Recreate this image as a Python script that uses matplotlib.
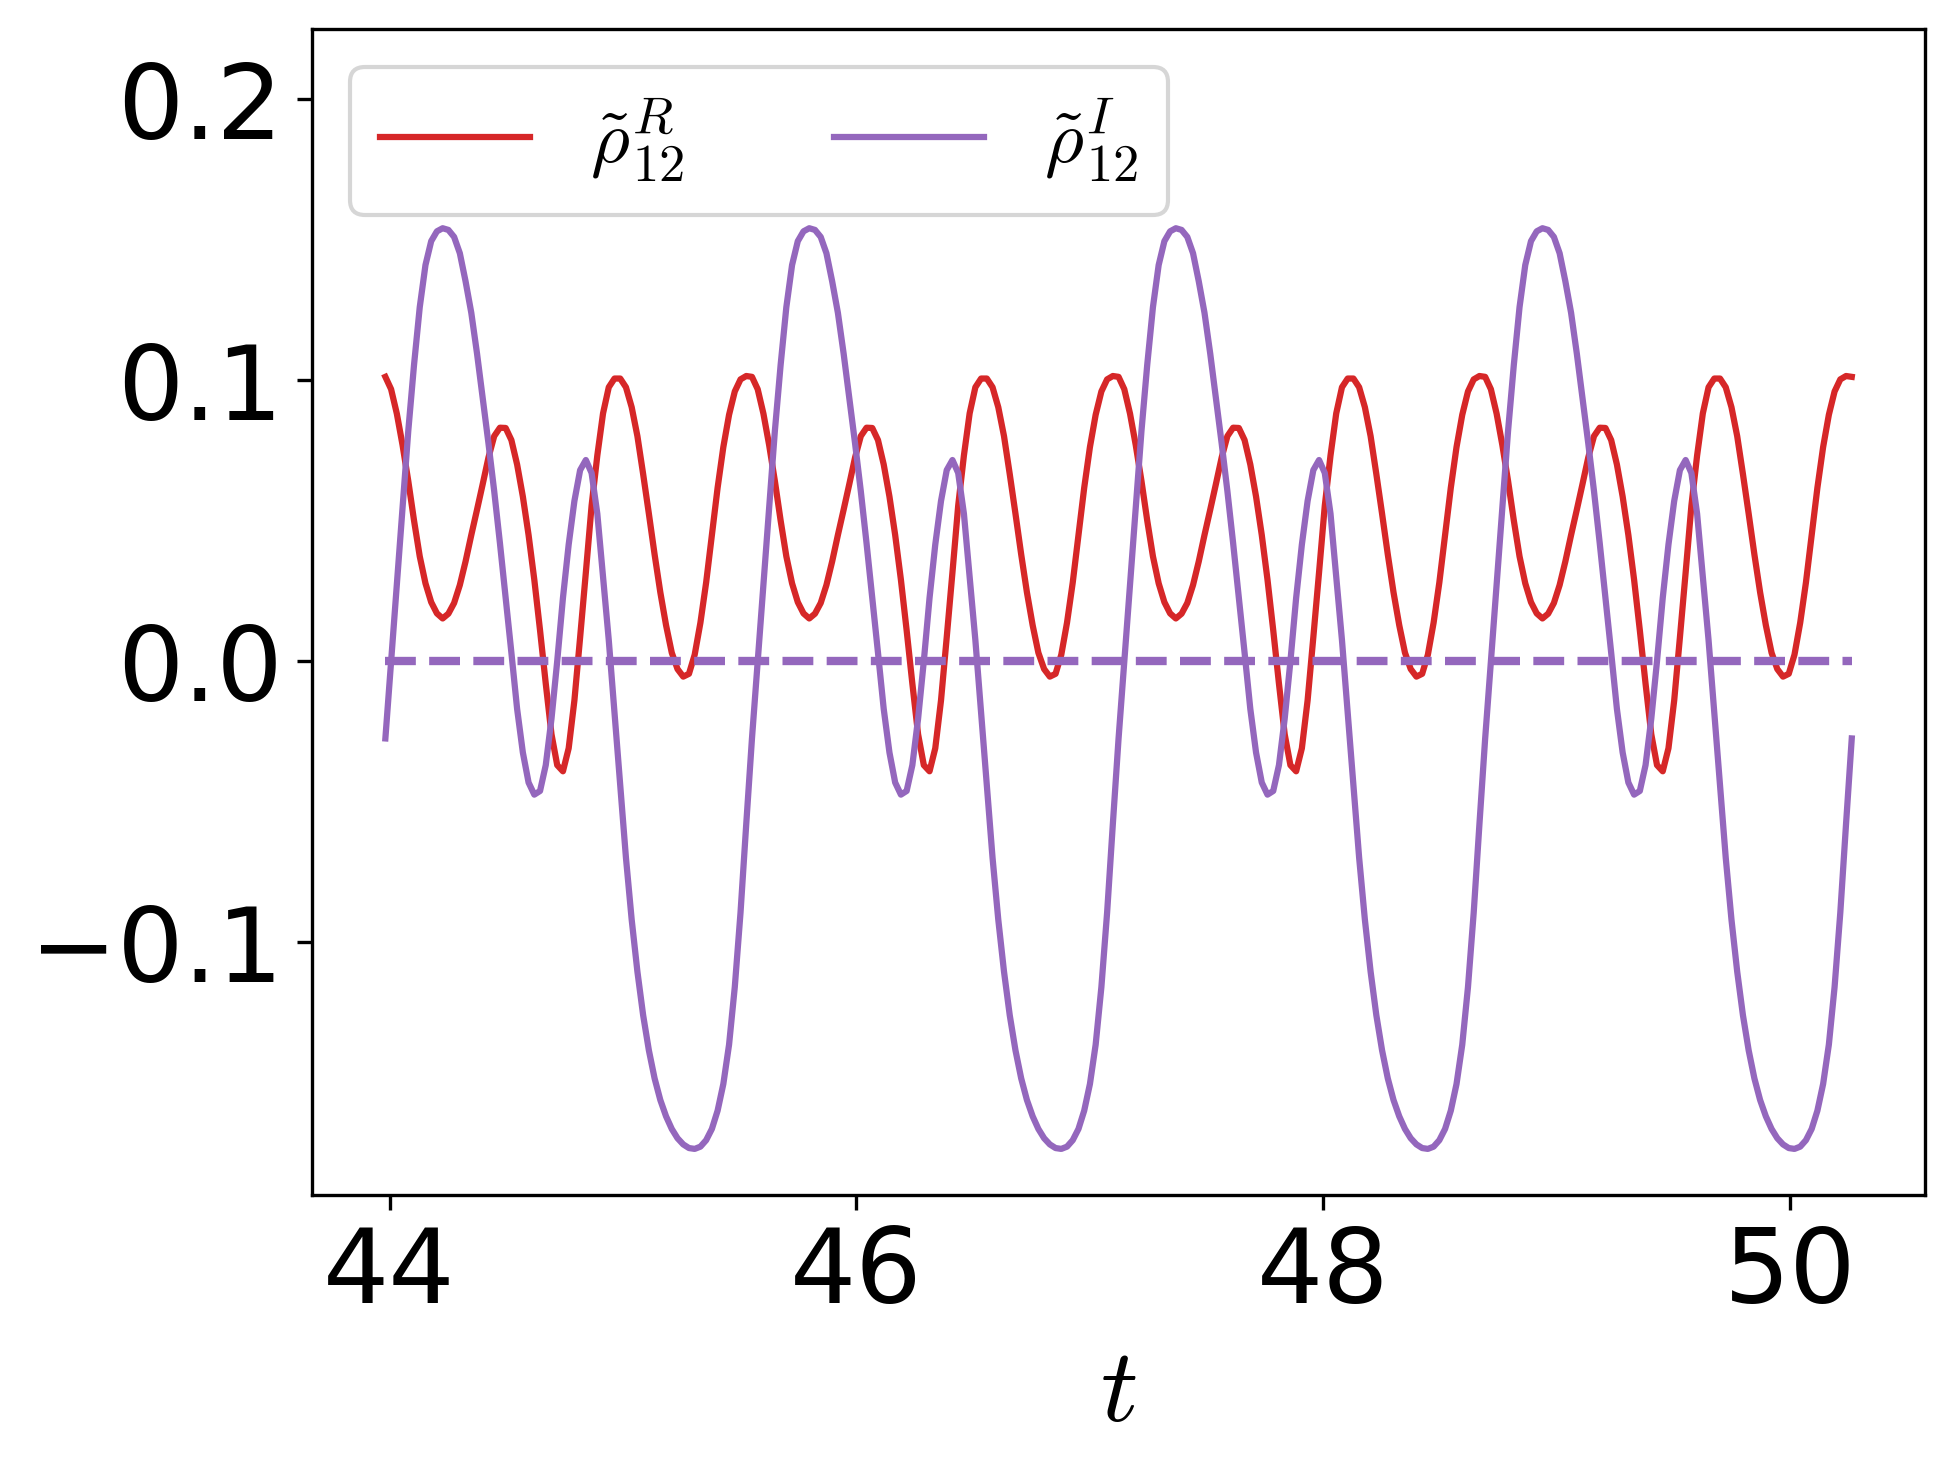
import numpy as np
import matplotlib.pyplot as plt

# the plotted window 14*pi .. 16*pi holds exactly four periods
rho_R_period = [
    0.1012, 0.0968, 0.0881, 0.0769, 0.0641, 0.0501, 0.0373, 0.0277,
    0.0210, 0.0170, 0.0152, 0.0169, 0.0207, 0.0271, 0.0355, 0.0449,
    0.0539, 0.0631, 0.0725, 0.0801, 0.0831, 0.0830, 0.0787, 0.0700,
    0.0586, 0.0449, 0.0290, 0.0110, -0.0080, -0.0260, -0.0370, -0.0392,
    -0.0310, -0.0140, 0.0085, 0.0316, 0.0553, 0.0732, 0.0882, 0.0975,
    0.1006, 0.1006, 0.0975, 0.0904, 0.0801, 0.0666, 0.0525, 0.0380,
    0.0245, 0.0128, 0.0030, -0.0028, -0.0055, -0.0045, 0.0023, 0.0137,
    0.0280, 0.0450, 0.0617, 0.0762, 0.0877, 0.0960, 0.1003, 0.1015,
]
rho_I_period = [
    -0.0275, 0.0000, 0.0270, 0.0550, 0.0820, 0.1054, 0.1260, 0.1410,
    0.1495, 0.1530, 0.1541, 0.1535, 0.1510, 0.1452, 0.1352, 0.1240,
    0.1095, 0.0935, 0.0775, 0.0605, 0.0420, 0.0225, 0.0030, -0.0170,
    -0.0325, -0.0432, -0.0475, -0.0462, -0.0370, -0.0205, 0.0000, 0.0225,
    0.0415, 0.0570, 0.0680, 0.0716, 0.0670, 0.0525, 0.0300, 0.0075,
    -0.0185, -0.0450, -0.0700, -0.0920, -0.1105, -0.1260, -0.1385, -0.1485,
    -0.1562, -0.1620, -0.1665, -0.1698, -0.1720, -0.1733, -0.1736, -0.1728,
    -0.1705, -0.1665, -0.1600, -0.1505, -0.1365, -0.1160, -0.0895, -0.0580,
]
n_periods = 4
rho_R = rho_R_period * n_periods + rho_R_period[:1]
rho_I = rho_I_period * n_periods + rho_I_period[:1]
t = np.linspace(14 * np.pi, 16 * np.pi, len(rho_R))

mean_I = [0.0, 0.0]

x_ticks = [44, 46, 48, 50]
y_ticks = [-0.1, 0.0, 0.1, 0.2]

plt.rcParams['mathtext.fontset'] = 'cm'

fig = plt.figure(figsize=(1954 / 300, 1474 / 300), dpi=300)
ax = fig.add_axes([0.1597, 0.1893, 0.8255, 0.791])

ax.plot(t, rho_R, color='tab:red', lw=1.5, label=r'$\tilde{\rho}_{12}^{R}$')
ax.plot(t, rho_I, color='tab:purple', lw=1.5, label=r'$\tilde{\rho}_{12}^{I}$')
ax.plot([t[0], t[-1]], mean_I, '--', color='tab:purple', lw=2)

ax.set_ylim(-0.19, 0.225)
ax.set_xticks(x_ticks)
ax.set_yticks(y_ticks)
ax.tick_params(labelsize=25)
ax.set_xlabel('$t$', fontsize=25)
ax.legend(loc='upper left', ncol=2, fontsize=18)

fig.savefig('out.png', dpi=300)
plt.close()
